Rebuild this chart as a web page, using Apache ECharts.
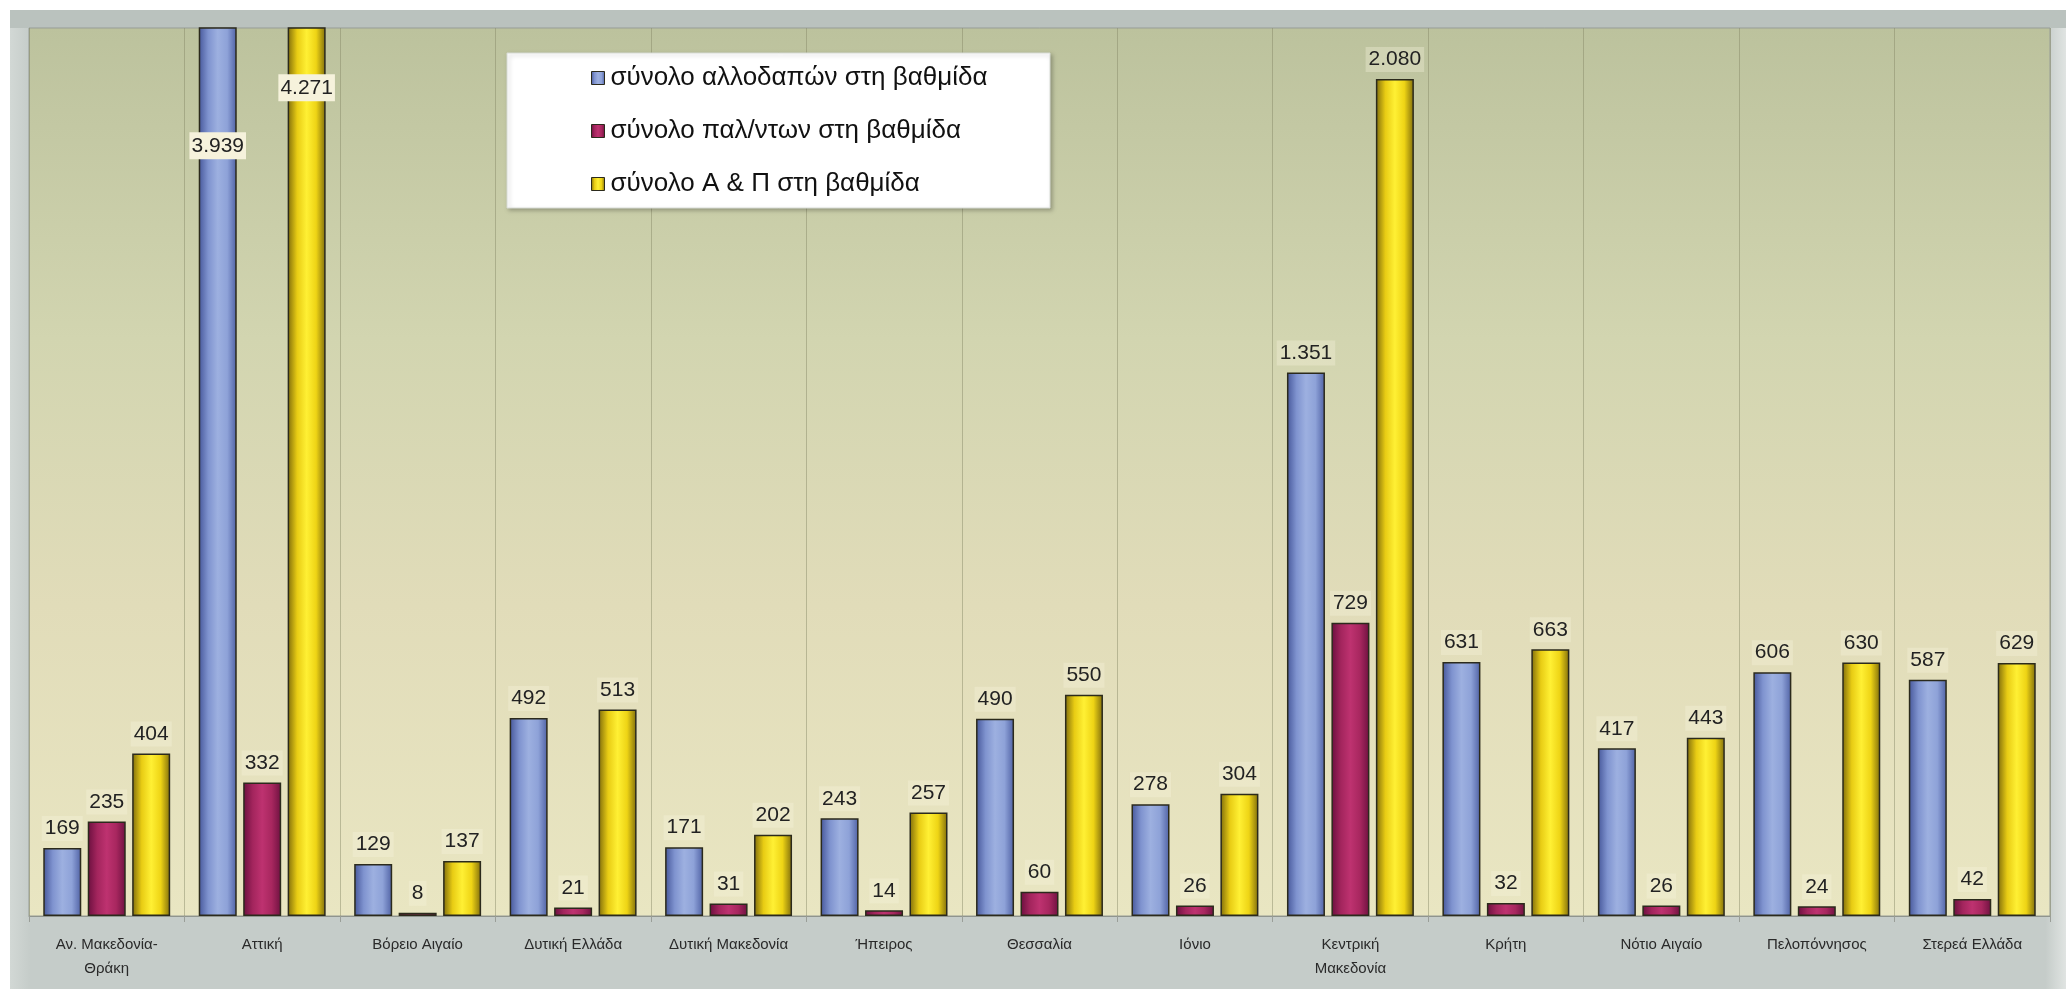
<!DOCTYPE html>
<html>
<head>
<meta charset="utf-8">
<title>chart</title>
<script src="https://cdn.jsdelivr.net/npm/echarts@6/dist/echarts.min.js"></script>
<style>
  html, body { margin: 0; padding: 0; background: #ffffff; }
  #charts { width: 2066px; height: 989px; }
</style>
</head>
<body>
<div id="charts"></div>
<script>
var regions = [
    "Αν. Μακεδονία-\nΘράκη",
    "Αττική",
    "Βόρειο Αιγαίο",
    "Δυτική Ελλάδα",
    "Δυτική Μακεδονία",
    "Ήπειρος",
    "Θεσσαλία",
    "Ιόνιο",
    "Κεντρική\nΜακεδονία",
    "Κρήτη",
    "Νότιο Αιγαίο",
    "Πελοπόννησος",
    "Στερεά Ελλάδα",
];
var seriesNames = [
    "σύνολο αλλοδαπών στη βαθμίδα",
    "σύνολο παλ/ντων στη βαθμίδα",
    "σύνολο Α & Π στη βαθμίδα",
];
var foreignData = [169, 3939, 129, 492, 171, 243, 490, 278, 1351, 631, 417, 606, 587];
var repatriatedData = [235, 332, 8, 21, 31, 14, 60, 26, 729, 32, 26, 24, 42];
var totalData = [404, 4271, 137, 513, 202, 257, 550, 304, 2080, 663, 443, 630, 629];

const charts = echarts.init(document.getElementById('charts'));

// Greek style thousands separator: 3.939
function fmt(p) {
    return String(p.value).replace(/\B(?=(\d{3})+(?!\d))/g, ".");
}

function cylinder(stops) {
    return {
        type: "linear", x: 0, y: 0, x2: 1, y2: 0,
        colorStops: stops.map(function (c, i) {
            return { offset: i / (stops.length - 1), color: c };
        }),
    };
}

var labelBase = {
    show: true,
    position: "top",
    distance: 7,
    formatter: fmt,
    color: "#222",
    fontFamily: "Liberation Sans",
    fontSize: 21,
    padding: [2, 3],
    backgroundColor: "rgba(246,243,222,0.35)",
};

// clipped bars of Αττική get their label inside the bar
function withClippedLabel(values, offsetY) {
    return values.map(function (v, i) {
        if (i !== 1) return v;
        return {
            value: v,
            label: {
                position: "insideTop",
                offset: [0, offsetY],
                backgroundColor: "#f6f2dc",
                padding: [3, 2],
            },
        };
    });
}

function barSeries(name, values, stops) {
    return {
        name: name,
        type: "bar",
        barWidth: 38,
        barGap: "17%",
        clip: true,
        itemStyle: {
            color: cylinder(stops),
            borderColor: "#2b2a1c",
            borderWidth: 1.5,
        },
        label: labelBase,
        data: values,
    };
}

let option = {
    animation: false,
    backgroundColor: "#ffffff",
    graphic: [
        {
            type: "rect",
            z: -10,
            shape: { x: 10, y: 10, width: 2056, height: 979 },
            style: {
                fill: {
                    type: "linear", x: 0, y: 0, x2: 1, y2: 0,
                    colorStops: [
                        { offset: 0, color: "#d2d8d5" },
                        { offset: 0.01, color: "#c5ccc9" },
                        { offset: 0.99, color: "#c5ccc9" },
                        { offset: 1, color: "#e0e4e2" },
                    ],
                },
            },
        },
        {
            type: "rect",
            z: -9,
            shape: { x: 10, y: 10, width: 2056, height: 18 },
            style: { fill: "#bac2be" },
        },
        {
            type: "rect",
            z: 3,
            shape: { x: 507, y: 53, width: 543, height: 155 },
            style: {
                fill: "#ffffff",
                stroke: "#d8dcd6",
                lineWidth: 1,
                shadowColor: "rgba(0,0,0,0.25)",
                shadowBlur: 4,
                shadowOffsetX: 2,
                shadowOffsetY: 2,
            },
        },
    ],
    grid: {
        left: 29,
        right: 16,
        top: 28,
        bottom: 73,
        show: true,
        borderColor: "#979d97",
        borderWidth: 1,
        backgroundColor: {
            type: "linear", x: 0, y: 0, x2: 0, y2: 1,
            colorStops: [
                { offset: 0, color: "#bcc29d" },
                { offset: 0.35, color: "#d2d5b0" },
                { offset: 0.65, color: "#e1dcb9" },
                { offset: 1, color: "#e9e6c2" },
            ],
        },
    },
    legend: {
        data: seriesNames,
        orient: "vertical",
        left: 591,
        top: 65,
        padding: 0,
        itemGap: 27,
        itemWidth: 13,
        itemHeight: 13,
        icon: "rect",
        itemStyle: { borderColor: "#2b2a1c", borderWidth: 1 },
        textStyle: {
            color: "#111",
            fontFamily: "Liberation Sans",
            fontSize: 26,
            padding: [0, 0, 0, 1],
        },
    },
    xAxis: {
        type: "category",
        data: regions,
        axisLine: { lineStyle: { color: "#8f948e", width: 1 } },
        axisTick: { show: true, length: 6, lineStyle: { color: "#9a9e98" } },
        splitLine: { show: true, lineStyle: { color: "rgba(130,132,100,0.45)", width: 1 } },
        axisLabel: {
            interval: 0,
            margin: 17,
            color: "#2a2a2a",
            fontFamily: "Liberation Sans",
            fontSize: 15,
            lineHeight: 24,
        },
    },
    yAxis: {
        type: "value",
        min: 0,
        max: 2207,
        show: false,
        splitLine: { show: false },
    },
    series: [
        barSeries(seriesNames[0], withClippedLabel(foreignData, 98),
            ["#46579a", "#7f93cf", "#9db0e0", "#8ea2d8", "#4f61a4"]),
        barSeries(seriesNames[1], repatriatedData,
            ["#6a0f3e", "#a3255d", "#be3270", "#a8275f", "#6e1140"]),
        barSeries(seriesNames[2], withClippedLabel(totalData, 40),
            ["#7f6c0c", "#e8cc14", "#fff034", "#eed415", "#806d0c"]),
    ],
};

charts.setOption(option);
</script>
</body>
</html>
